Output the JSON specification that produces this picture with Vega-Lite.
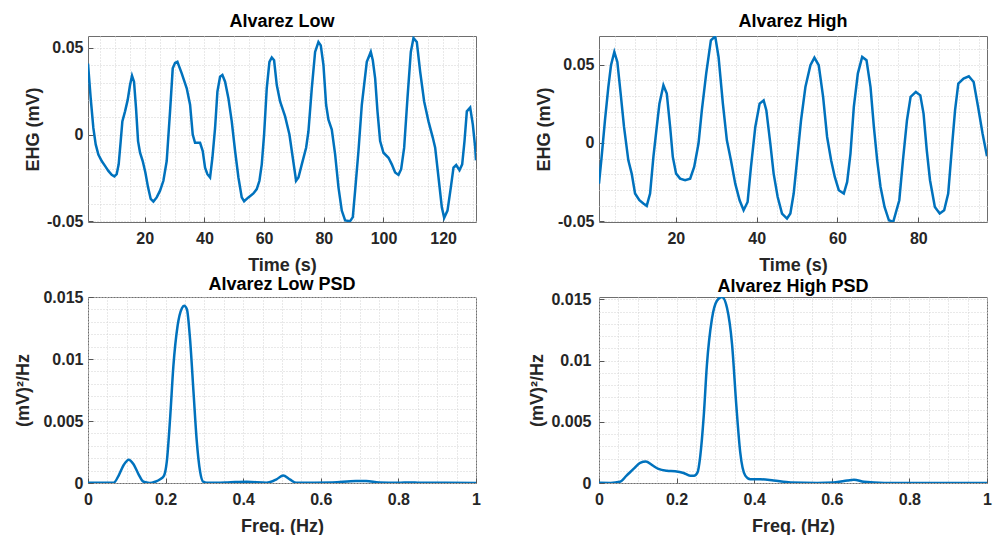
{
  "$schema": "https://vega.github.io/schema/vega-lite/v6.json",
  "background": "white",
  "padding": {"left": 14, "top": 12, "right": 5, "bottom": 5},
  "config": {
    "font": "Liberation Sans",
    "view": {"stroke": "#6e6e6e", "strokeWidth": 1},
    "title": {"font": "Liberation Sans", "fontSize": 18, "fontWeight": "bold", "color": "#000000", "offset": 5, "frame": "group"},
    "axis": {
      "labelFont": "Liberation Sans", "labelFontSize": 16, "labelFontWeight": "bold", "labelColor": "#262626",
      "titleFont": "Liberation Sans", "titleFontSize": 18, "titleFontWeight": "bold", "titleColor": "#262626",
      "domain": false, "gridColor": "#d2d2d2", "gridDash": [1, 2], "gridWidth": 1,
      "tickColor": "#555555", "tickSize": -5, "tickWidth": 1,
      "labelOverlap": false, "labelFlush": false, "labelBound": false
    },
    "axisX": {"labelPadding": 13, "titlePadding": 10},
    "axisY": {"labelPadding": 10, "titlePadding": 4}
  },
  "datasets": {
    "low": [
      {"t":1,"v":0.041},{"t":1.9,"v":0.021},{"t":2.79,"v":0.0038},{"t":3.58,"v":-0.0057},{"t":4.47,"v":-0.0115},{"t":5.59,"v":-0.0153},{"t":6.7,"v":-0.0181},{"t":7.82,"v":-0.021},{"t":8.94,"v":-0.0233},{"t":9.83,"v":-0.0242},{"t":10.61,"v":-0.0229},{"t":11.28,"v":-0.0172},{"t":11.96,"v":-0.0038},{"t":12.51,"v":0.0076},{"t":13.41,"v":0.0134},{"t":14.3,"v":0.02},{"t":15.08,"v":0.0286},{"t":15.75,"v":0.034},{"t":16.42,"v":0.0305},{"t":17.09,"v":0.0153},{"t":17.77,"v":-0.0038},{"t":18.44,"v":-0.0105},{"t":19.33,"v":-0.0153},{"t":20.22,"v":-0.0219},{"t":21.12,"v":-0.0305},{"t":22.01,"v":-0.0372},{"t":22.91,"v":-0.0387},{"t":24.02,"v":-0.0363},{"t":25.14,"v":-0.0324},{"t":26.26,"v":-0.0267},{"t":27.37,"v":-0.0153},{"t":28.49,"v":0.0134},{"t":29.39,"v":0.0382},{"t":30.17,"v":0.0414},{"t":30.95,"v":0.042},{"t":32.4,"v":0.0353},{"t":34.08,"v":0.0267},{"t":35.2,"v":0.0172},{"t":36.09,"v":0},{"t":36.87,"v":-0.0048},{"t":38.55,"v":-0.0048},{"t":39.44,"v":-0.0095},{"t":40.22,"v":-0.0191},{"t":41.01,"v":-0.0229},{"t":41.9,"v":-0.0248},{"t":42.68,"v":-0.0134},{"t":43.58,"v":0.0038},{"t":44.36,"v":0.0248},{"t":45.25,"v":0.0334},{"t":46.03,"v":0.0344},{"t":46.93,"v":0.0305},{"t":48.04,"v":0.021},{"t":49.16,"v":0.0076},{"t":50.28,"v":-0.0095},{"t":51.4,"v":-0.0248},{"t":52.51,"v":-0.0363},{"t":53.3,"v":-0.0385},{"t":54.75,"v":-0.0363},{"t":56.42,"v":-0.034},{"t":57.54,"v":-0.0315},{"t":58.44,"v":-0.0267},{"t":59.22,"v":-0.0172},{"t":60,"v":0},{"t":60.89,"v":0.0267},{"t":61.79,"v":0.042},{"t":62.57,"v":0.0445},{"t":63.35,"v":0.0429},{"t":64.25,"v":0.0286},{"t":65.36,"v":0.0191},{"t":67.04,"v":0.0105},{"t":68.49,"v":0},{"t":69.61,"v":-0.0134},{"t":70.72,"v":-0.0267},{"t":71.51,"v":-0.0248},{"t":72.63,"v":-0.0172},{"t":74.08,"v":-0.0076},{"t":74.86,"v":0.0019},{"t":75.98,"v":0.0267},{"t":77.09,"v":0.0477},{"t":78.21,"v":0.0534},{"t":78.99,"v":0.0515},{"t":79.89,"v":0.0401},{"t":80.78,"v":0.0172},{"t":81.56,"v":0.0086},{"t":82.68,"v":0.0029},{"t":83.8,"v":-0.0115},{"t":84.92,"v":-0.0305},{"t":86.03,"v":-0.0439},{"t":87.15,"v":-0.0496},{"t":88.83,"v":-0.05},{"t":89.72,"v":-0.0477},{"t":90.5,"v":-0.0324},{"t":91.62,"v":-0.0095},{"t":92.74,"v":0.0172},{"t":94.41,"v":0.042},{"t":95.75,"v":0.0477},{"t":96.42,"v":0.0429},{"t":97.21,"v":0.0324},{"t":97.99,"v":0.0134},{"t":98.88,"v":-0.0038},{"t":100,"v":-0.0105},{"t":101.68,"v":-0.0134},{"t":102.79,"v":-0.0172},{"t":103.91,"v":-0.0219},{"t":105.03,"v":-0.0233},{"t":105.92,"v":-0.02},{"t":106.93,"v":-0.0076},{"t":108.04,"v":0.021},{"t":109.16,"v":0.0477},{"t":110.06,"v":0.0557},{"t":111.17,"v":0.0534},{"t":112.29,"v":0.0363},{"t":113.63,"v":0.0191},{"t":115.08,"v":0.0076},{"t":116.54,"v":-0.0019},{"t":117.32,"v":-0.0076},{"t":118.44,"v":-0.0248},{"t":119.55,"v":-0.042},{"t":120.34,"v":-0.0481},{"t":121.45,"v":-0.0439},{"t":122.57,"v":-0.0305},{"t":123.46,"v":-0.0191},{"t":124.36,"v":-0.0176},{"t":125.47,"v":-0.0206},{"t":126.37,"v":-0.0172},{"t":127.15,"v":-0.0038},{"t":127.93,"v":0.0134},{"t":129.05,"v":0.0156},{"t":129.94,"v":0.0057},{"t":130.73,"v":-0.0076},{"t":131,"v":-0.0149}
    ],
    "high": [
      {"t":1,"v":-0.026},{"t":1.65,"v":-0.0089},{"t":2.48,"v":0.0145},{"t":3.31,"v":0.0357},{"t":3.97,"v":0.0496},{"t":4.79,"v":0.0581},{"t":5.54,"v":0.0517},{"t":6.36,"v":0.0315},{"t":7.19,"v":0.0102},{"t":8.26,"v":-0.0111},{"t":9.09,"v":-0.0196},{"t":9.92,"v":-0.0323},{"t":10.99,"v":-0.0366},{"t":11.98,"v":-0.0387},{"t":12.81,"v":-0.0402},{"t":13.64,"v":-0.0323},{"t":14.46,"v":-0.0089},{"t":15.29,"v":0.0102},{"t":15.95,"v":0.0251},{"t":16.94,"v":0.0368},{"t":17.77,"v":0.0315},{"t":18.6,"v":0.0102},{"t":19.26,"v":-0.0089},{"t":20.08,"v":-0.0196},{"t":21.07,"v":-0.0228},{"t":22.31,"v":-0.0238},{"t":23.55,"v":-0.0228},{"t":24.55,"v":-0.0153},{"t":25.62,"v":-0.0004},{"t":26.45,"v":0.0209},{"t":27.52,"v":0.0443},{"t":28.68,"v":0.0655},{"t":29.75,"v":0.0681},{"t":30.58,"v":0.0549},{"t":31.65,"v":0.0251},{"t":32.64,"v":0.0017},{"t":33.64,"v":-0.0111},{"t":34.71,"v":-0.026},{"t":35.79,"v":-0.0366},{"t":36.78,"v":-0.043},{"t":37.77,"v":-0.0377},{"t":38.6,"v":-0.0153},{"t":39.67,"v":0.0102},{"t":40.74,"v":0.0251},{"t":41.74,"v":0.0272},{"t":42.4,"v":0.0209},{"t":43.39,"v":-0.0004},{"t":44.21,"v":-0.0196},{"t":45.21,"v":-0.0345},{"t":46.28,"v":-0.0451},{"t":47.52,"v":-0.0483},{"t":48.35,"v":-0.0451},{"t":49.17,"v":-0.0323},{"t":50,"v":-0.0111},{"t":50.99,"v":0.0145},{"t":52.07,"v":0.0357},{"t":53.31,"v":0.0496},{"t":54.3,"v":0.0545},{"t":55.37,"v":0.0496},{"t":56.45,"v":0.0294},{"t":57.44,"v":0.0038},{"t":58.43,"v":-0.0111},{"t":59.34,"v":-0.0217},{"t":60.33,"v":-0.0302},{"t":61.57,"v":-0.0323},{"t":62.4,"v":-0.0249},{"t":63.22,"v":-0.0068},{"t":64.05,"v":0.023},{"t":65.04,"v":0.0443},{"t":66.12,"v":0.0549},{"t":67.19,"v":0.0528},{"t":68.18,"v":0.0357},{"t":69.01,"v":0.0102},{"t":69.83,"v":-0.0111},{"t":70.66,"v":-0.0281},{"t":71.65,"v":-0.0409},{"t":72.73,"v":-0.0494},{"t":73.8,"v":-0.0504},{"t":75.3,"v":-0.0366},{"t":76.2,"v":-0.0111},{"t":77.2,"v":0.0145},{"t":78.1,"v":0.0294},{"t":79.4,"v":0.0326},{"t":80.5,"v":0.0304},{"t":81.3,"v":0.0187},{"t":82.1,"v":-0.0047},{"t":82.9,"v":-0.0238},{"t":84.1,"v":-0.0409},{"t":85.3,"v":-0.0451},{"t":86.4,"v":-0.043},{"t":87.4,"v":-0.0323},{"t":88.4,"v":-0.0004},{"t":89.1,"v":0.0209},{"t":89.9,"v":0.0379},{"t":91.2,"v":0.0411},{"t":92.5,"v":0.0426},{"t":93.7,"v":0.0389},{"t":94.8,"v":0.023},{"t":95.9,"v":0.006},{"t":97,"v":-0.0085}
    ],
    "lowpsd": [
      {"f":0,"p":0.00003},{"f":0.03,"p":0.00002},{"f":0.066,"p":0.00002},{"f":0.079,"p":0.0006},{"f":0.092,"p":0.00145},{"f":0.105,"p":0.00188},{"f":0.117,"p":0.00153},{"f":0.13,"p":0.00072},{"f":0.143,"p":0.0001},{"f":0.159,"p":0},{"f":0.173,"p":0.0001},{"f":0.186,"p":0.0003},{"f":0.196,"p":0.0006},{"f":0.203,"p":0.0017},{"f":0.212,"p":0.0054},{"f":0.22,"p":0.0094},{"f":0.231,"p":0.0127},{"f":0.242,"p":0.0141},{"f":0.248,"p":0.0143},{"f":0.255,"p":0.014},{"f":0.263,"p":0.0116},{"f":0.272,"p":0.0073},{"f":0.28,"p":0.0035},{"f":0.289,"p":0.0009},{"f":0.297,"p":0.0001},{"f":0.306,"p":0.00002},{"f":0.36,"p":0.00005},{"f":0.409,"p":0.0001},{"f":0.46,"p":0.00002},{"f":0.486,"p":0.0003},{"f":0.503,"p":0.0006},{"f":0.52,"p":0.0003},{"f":0.537,"p":0.00002},{"f":0.63,"p":0.00005},{"f":0.69,"p":0.00016},{"f":0.717,"p":0.00016},{"f":0.75,"p":0.00005},{"f":0.8,"p":0.00002},{"f":0.83,"p":0.00005},{"f":0.855,"p":0.00002},{"f":1,"p":0.00001}
    ],
    "highpsd": [
      {"f":0,"p":0.00002},{"f":0.03,"p":0.00001},{"f":0.054,"p":0.0001},{"f":0.071,"p":0.0006},{"f":0.089,"p":0.00115},{"f":0.106,"p":0.00164},{"f":0.121,"p":0.00175},{"f":0.136,"p":0.00148},{"f":0.153,"p":0.00115},{"f":0.175,"p":0.001},{"f":0.196,"p":0.00096},{"f":0.218,"p":0.00082},{"f":0.235,"p":0.0006},{"f":0.245,"p":0.0006},{"f":0.254,"p":0.00087},{"f":0.261,"p":0.0022},{"f":0.27,"p":0.0055},{"f":0.278,"p":0.0096},{"f":0.291,"p":0.0134},{"f":0.304,"p":0.0149},{"f":0.317,"p":0.0152},{"f":0.33,"p":0.0143},{"f":0.343,"p":0.0113},{"f":0.354,"p":0.0063},{"f":0.364,"p":0.0025},{"f":0.377,"p":0.0006},{"f":0.39,"p":0.0003},{"f":0.416,"p":0.0003},{"f":0.45,"p":0.0002},{"f":0.494,"p":0.00005},{"f":0.562,"p":0.00001},{"f":0.605,"p":0.00005},{"f":0.64,"p":0.0002},{"f":0.657,"p":0.00027},{"f":0.683,"p":0.0001},{"f":0.735,"p":0.00001},{"f":1,"p":0.00001}
    ]
  },
  "columns": 2,
  "bounds": "flush",
  "spacing": {"row": 75, "column": 123},
  "concat": [
    {
      "width": 388, "height": 186,
      "title": "Alvarez Low",
      "data": {"name": "low"},
      "mark": {"type": "line", "color": "#0072BD", "strokeWidth": 2.5, "clip": true},
      "encoding": {
        "x": {"field": "t", "type": "quantitative", "scale": {"domain": [1, 131], "nice": false, "zero": false},
          "axis": {"title": "Time (s)", "values": [5,10,15,20,25,30,35,40,45,50,55,60,65,70,75,80,85,90,95,100,105,110,115,120,125,130],
            "labelExpr": "datum.value % 20 == 0 ? datum.label : ''",
            "tickOpacity": {"condition": {"test": "datum.value % 20 == 0", "value": 1}, "value": 0}}},
        "y": {"field": "v", "type": "quantitative", "scale": {"domain": [-0.0505, 0.0569], "nice": false, "zero": false},
          "axis": {"title": "EHG (mV)", "values": [-0.05,-0.04,-0.03,-0.02,-0.01,0,0.01,0.02,0.03,0.04,0.05],
            "labelExpr": "abs(datum.value) < 1e-9 ? '0' : (abs(datum.value + 0.05) < 1e-9 ? '-0.05' : (abs(datum.value - 0.05) < 1e-9 ? '0.05' : ''))",
            "tickOpacity": {"condition": {"test": "abs(datum.value) < 1e-9 || abs(abs(datum.value) - 0.05) < 1e-9", "value": 1}, "value": 0}}}
      }
    },
    {
      "width": 388, "height": 186,
      "title": "Alvarez High",
      "data": {"name": "high"},
      "mark": {"type": "line", "color": "#0072BD", "strokeWidth": 2.5, "clip": true},
      "encoding": {
        "x": {"field": "t", "type": "quantitative", "scale": {"domain": [1, 97], "nice": false, "zero": false},
          "axis": {"title": "Time (s)", "values": [5,10,15,20,25,30,35,40,45,50,55,60,65,70,75,80,85,90,95],
            "labelExpr": "datum.value % 20 == 0 ? datum.label : ''",
            "tickOpacity": {"condition": {"test": "datum.value % 20 == 0", "value": 1}, "value": 0}}},
        "y": {"field": "v", "type": "quantitative", "scale": {"domain": [-0.0505, 0.0683], "nice": false, "zero": false},
          "axis": {"title": "EHG (mV)", "values": [-0.05,-0.04,-0.03,-0.02,-0.01,0,0.01,0.02,0.03,0.04,0.05,0.06],
            "labelExpr": "abs(datum.value) < 1e-9 ? '0' : (abs(datum.value + 0.05) < 1e-9 ? '-0.05' : (abs(datum.value - 0.05) < 1e-9 ? '0.05' : ''))",
            "tickOpacity": {"condition": {"test": "abs(datum.value) < 1e-9 || abs(abs(datum.value) - 0.05) < 1e-9", "value": 1}, "value": 0}}}
      }
    },
    {
      "width": 388, "height": 186,
      "title": {"text": "Alvarez Low PSD", "dy": 10},
      "data": {"name": "lowpsd"},
      "mark": {"type": "line", "color": "#0072BD", "strokeWidth": 2.5, "clip": true, "interpolate": "monotone"},
      "encoding": {
        "x": {"field": "f", "type": "quantitative", "scale": {"domain": [0, 1], "nice": false},
          "axis": {"title": "Freq. (Hz)", "values": [0,0.05,0.1,0.15,0.2,0.25,0.3,0.35,0.4,0.45,0.5,0.55,0.6,0.65,0.7,0.75,0.8,0.85,0.9,0.95,1],
            "labelExpr": "abs(datum.value * 5 - round(datum.value * 5)) < 1e-6 ? format(datum.value, '~g') : ''",
            "tickOpacity": {"condition": {"test": "abs(datum.value * 5 - round(datum.value * 5)) < 1e-6", "value": 1}, "value": 0}}},
        "y": {"field": "p", "type": "quantitative", "scale": {"domain": [0, 0.015], "nice": false},
          "axis": {"title": "(mV)²/Hz", "titlePadding": 10, "values": [0,0.001,0.002,0.003,0.004,0.005,0.006,0.007,0.008,0.009,0.01,0.011,0.012,0.013,0.014,0.015],
            "labelExpr": "abs(datum.value * 200 - round(datum.value * 200)) < 1e-6 ? format(datum.value, '~g') : ''",
            "tickOpacity": {"condition": {"test": "abs(datum.value * 200 - round(datum.value * 200)) < 1e-6", "value": 1}, "value": 0}}}
      }
    },
    {
      "width": 388, "height": 186,
      "title": {"text": "Alvarez High PSD", "dy": 10},
      "data": {"name": "highpsd"},
      "mark": {"type": "line", "color": "#0072BD", "strokeWidth": 2.5, "clip": true, "interpolate": "monotone"},
      "encoding": {
        "x": {"field": "f", "type": "quantitative", "scale": {"domain": [0, 1], "nice": false},
          "axis": {"title": "Freq. (Hz)", "values": [0,0.05,0.1,0.15,0.2,0.25,0.3,0.35,0.4,0.45,0.5,0.55,0.6,0.65,0.7,0.75,0.8,0.85,0.9,0.95,1],
            "labelExpr": "abs(datum.value * 5 - round(datum.value * 5)) < 1e-6 ? format(datum.value, '~g') : ''",
            "tickOpacity": {"condition": {"test": "abs(datum.value * 5 - round(datum.value * 5)) < 1e-6", "value": 1}, "value": 0}}},
        "y": {"field": "p", "type": "quantitative", "scale": {"domain": [0, 0.0152], "nice": false},
          "axis": {"title": "(mV)²/Hz", "labelPadding": 13, "titlePadding": 4, "values": [0,0.001,0.002,0.003,0.004,0.005,0.006,0.007,0.008,0.009,0.01,0.011,0.012,0.013,0.014,0.015],
            "labelExpr": "abs(datum.value * 200 - round(datum.value * 200)) < 1e-6 ? format(datum.value, '~g') : ''",
            "tickOpacity": {"condition": {"test": "abs(datum.value * 200 - round(datum.value * 200)) < 1e-6", "value": 1}, "value": 0}}}
      }
    }
  ]
}
